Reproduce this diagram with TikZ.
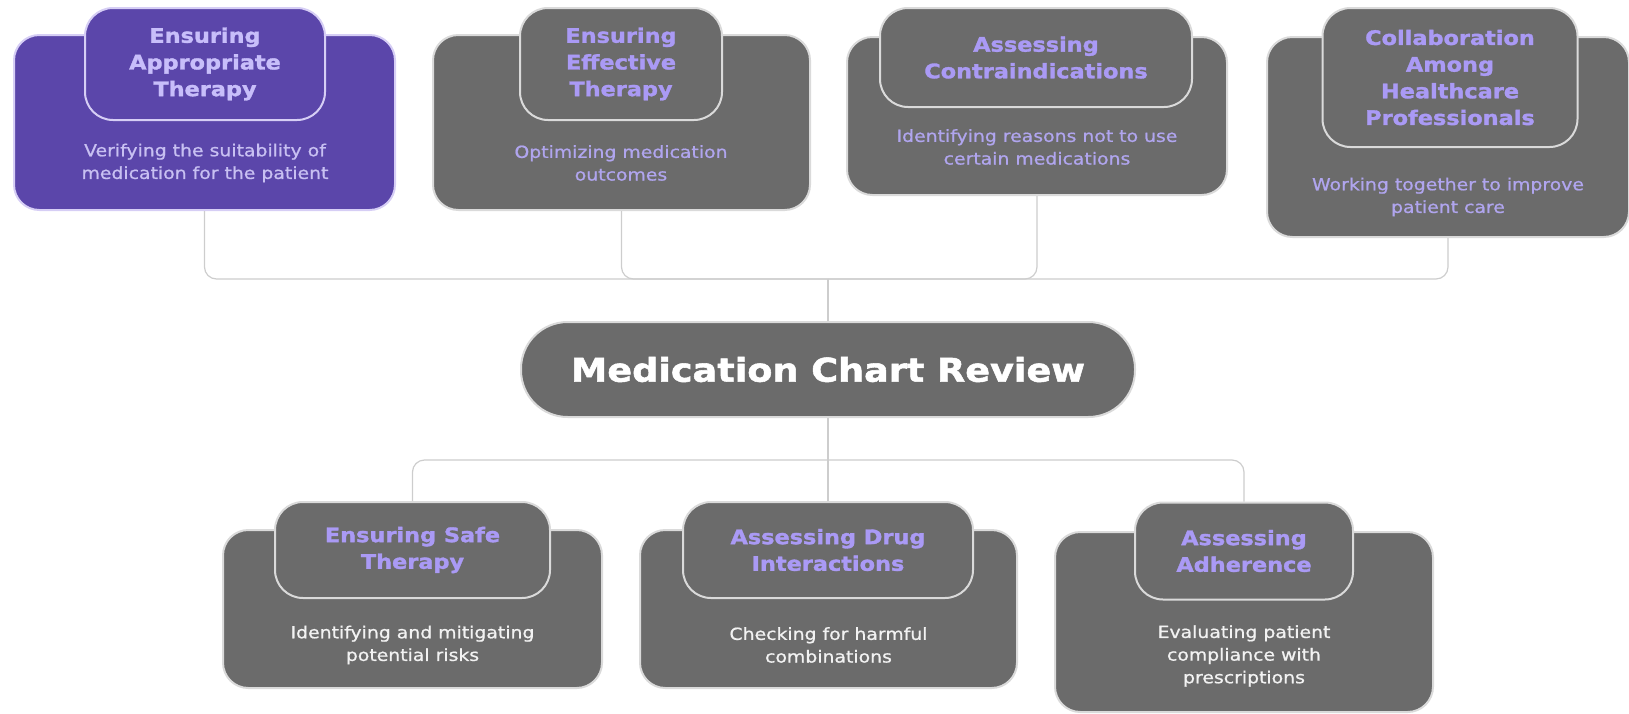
\documentclass[tikz,border=0pt]{standalone}
\usepackage{fontspec}
\setmainfont[FakeStretch=1.15]{DejaVu Sans}
\newfontfamily\headfont[FakeStretch=1.12,BoldFeatures={FakeBold=1.6}]{DejaVu Sans}
\newfontfamily\descfont[FakeStretch=1.13,FakeBold=0.9]{DejaVu Sans}
\usetikzlibrary{positioning}

\definecolor{cardgray}{RGB}{107,107,107}
\definecolor{cardpurple}{RGB}{91,70,170}
\definecolor{rimgray}{RGB}{218,218,218}
\definecolor{rimlav}{RGB}{214,206,245}
\definecolor{headlav}{RGB}{170,154,245}
\definecolor{headlight}{RGB}{200,190,250}
\definecolor{desclav}{RGB}{176,165,238}
\definecolor{desclight}{RGB}{200,192,242}
\definecolor{descwhite}{RGB}{242,242,242}
\definecolor{linkgray}{RGB}{205,205,205}

\tikzset{
  card/.style 2 args={draw=rimgray, line width=1.5pt, fill=cardgray, rounded corners=19pt,
    minimum width=#1*0.75pt, minimum height=#2*0.75pt, inner sep=0pt},
  head/.style 2 args={card={#1}{#2}, rounded corners=21pt, text=headlav, align=center,
    font=\headfont\bfseries\fontsize{15}{20}\selectfont},
  desc/.style={text=desclav, align=center, font=\descfont\fontsize{12.5}{17}\selectfont},
  link/.style={draw=linkgray, line width=0.9pt, rounded corners=9pt},
}

\begin{document}
\begin{tikzpicture}[x=0.75pt,y=0.75pt,yscale=-1,xscale=1]
\useasboundingbox (0,0) rectangle (1629,714);

% top row
\node[card={381}{175}, fill=cardpurple, draw=rimlav] (card1) at (204.5,122.5) {};
\node[head={240}{112}, fill=cardpurple, draw=rimlav, text=headlight] (head1) at (205,64) {Ensuring\\Appropriate\\Therapy};
\node[desc, text=desclight] (desc1) at (205,163) {Verifying the suitability of\\medication for the patient};

\node[card={377}{175}] (card2) at (621.5,122.5) {};
\node[head={202}{112}] (head2) at (621,64) {Ensuring\\Effective\\Therapy};
\node[desc] (desc2) at (621,163) {Optimizing medication\\outcomes};

\node[card={380}{158}] (card3) at (1037,116) {};
\node[head={312}{99}] (head3) at (1036,57.5) {Assessing\\Contraindications};
\node[desc] (desc3) at (1037,147) {Identifying reasons not to use\\certain medications};

\node[card={362}{200}] (card4) at (1448,137) {};
\node[head={255}{139}] (head4) at (1450,77.5) {Collaboration\\Among\\Healthcare\\Professionals};
\node[desc] (desc4) at (1448,197) {Working together to improve\\patient care};

% centre
\node[card={614}{95}, rounded corners=35pt, text=white, font=\headfont\bfseries\fontsize{24.5}{28}\selectfont] (review) at (828,369.5) {Medication Chart Review};

% bottom row
\node[card={379}{158}] (card5) at (412.5,609) {};
\node[head={275}{96}] (head5) at (412.5,550) {Ensuring Safe\\Therapy};
\node[desc, text=descwhite] (desc5) at (412.5,645) {Identifying and mitigating\\potential risks};

\node[card={377}{158}] (card6) at (828.5,609) {};
\node[head={290}{96}] (head6) at (828,550) {Assessing Drug\\Interactions};
\node[desc, text=descwhite] (desc6) at (828.5,645) {Checking for harmful\\combinations};

\node[card={378}{180}] (card7) at (1244,622) {};
\node[head={218}{97}] (head7) at (1244,551) {Assessing\\Adherence};
\node[desc, text=descwhite] (desc7) at (1244,656) {Evaluating patient\\compliance with\\prescriptions};

% connectors
\coordinate (topbus) at (828,279);
\coordinate (lowbus) at (828,460);
\draw[link] (card1.south) |- (topbus);
\draw[link] (card2.south) |- (topbus);
\draw[link] (card3.south) |- (topbus);
\draw[link] (card4.south) |- (topbus);
\draw[link] (review.north) -- (topbus);
\draw[link] (review.south) -- (lowbus);
\draw[link] (head5.north) |- (lowbus);
\draw[link] (head6.north) -- (lowbus);
\draw[link] (head7.north) |- (lowbus);

\end{tikzpicture}
\end{document}
